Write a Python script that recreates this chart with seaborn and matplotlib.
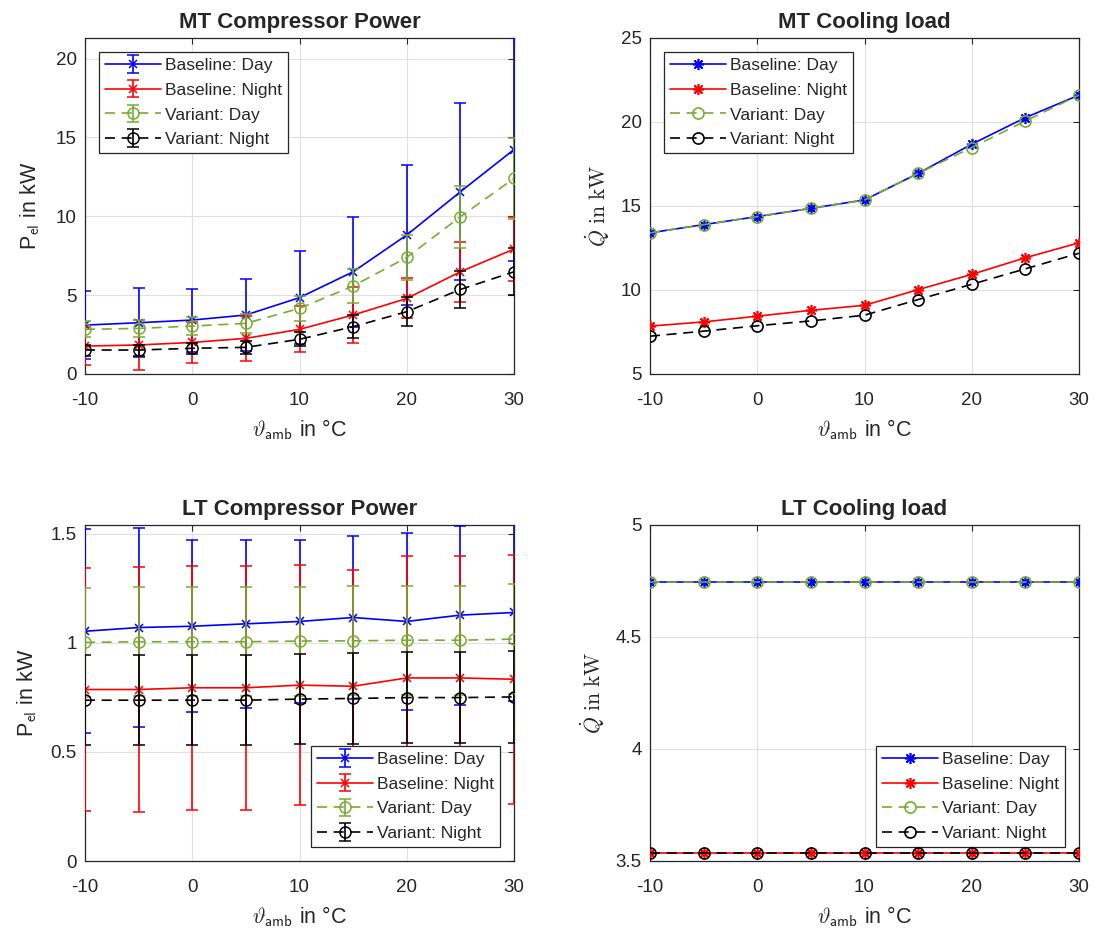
import numpy as np
import pandas as pd
import matplotlib
matplotlib.use("Agg")
import matplotlib.pyplot as plt
import seaborn as sns

# ---------------- data ----------------
t_amb = [-10, -5, 0, 5, 10, 15, 20, 25, 30]
x_ticks = [-10, 0, 10, 20, 30]
series_labels = ["Baseline: Day", "Baseline: Night", "Variant: Day", "Variant: Night"]

# MT compressor power (kW) and error half-widths
mt_pow_base_day = [3.10, 3.25, 3.42, 3.74, 4.84, 6.48, 8.81, 11.55, 14.23]
mt_pow_base_day_err = [2.18, 2.18, 2.00, 2.26, 2.95, 3.50, 4.43, 5.60, 7.04]
mt_pow_base_night = [1.77, 1.84, 2.00, 2.26, 2.83, 3.74, 4.79, 6.48, 7.92]
mt_pow_base_night_err = [1.20, 1.59, 1.32, 1.42, 1.46, 1.76, 1.27, 1.90, 2.05]
mt_pow_var_day = [2.83, 2.89, 3.04, 3.21, 4.16, 5.58, 7.39, 9.97, 12.40]
mt_pow_var_day_err = [0.50, 0.55, 0.55, 0.60, 0.80, 1.10, 1.40, 1.96, 2.57]
mt_pow_var_night = [1.52, 1.52, 1.63, 1.69, 2.20, 3.00, 3.95, 5.36, 6.48]
mt_pow_var_night_err = [0.35, 0.35, 0.35, 0.40, 0.45, 0.74, 0.91, 1.20, 1.48]

# MT cooling load (kW)
mt_q_base_day = [13.40, 13.89, 14.37, 14.86, 15.36, 16.94, 18.68, 20.26, 21.60]
mt_q_base_night = [7.85, 8.10, 8.44, 8.79, 9.09, 10.02, 10.93, 11.92, 12.81]
mt_q_var_day = [13.40, 13.89, 14.37, 14.86, 15.36, 16.94, 18.48, 20.06, 21.60]
mt_q_var_night = [7.25, 7.55, 7.87, 8.16, 8.50, 9.43, 10.34, 11.26, 12.19]

# LT compressor power (kW) and error half-widths
lt_pow_base_day = [1.053, 1.070, 1.076, 1.087, 1.098, 1.116, 1.098, 1.127, 1.139]
lt_pow_base_day_err = [0.468, 0.455, 0.395, 0.384, 0.373, 0.373, 0.407, 0.410, 0.405]
lt_pow_base_night = [0.786, 0.786, 0.794, 0.794, 0.806, 0.801, 0.839, 0.839, 0.833]
lt_pow_base_night_err = [0.555, 0.562, 0.560, 0.560, 0.550, 0.535, 0.559, 0.559, 0.570]
lt_pow_var_day = [1.002, 1.005, 1.005, 1.005, 1.008, 1.009, 1.012, 1.012, 1.017]
lt_pow_var_day_err = [0.250, 0.250, 0.250, 0.250, 0.250, 0.250, 0.250, 0.250, 0.252]
lt_pow_var_night = [0.737, 0.737, 0.737, 0.737, 0.742, 0.745, 0.749, 0.749, 0.752]
lt_pow_var_night_err = [0.205, 0.205, 0.205, 0.205, 0.205, 0.207, 0.210, 0.210, 0.210]

# LT cooling load (kW)
lt_q_base_day = [4.744] * 9
lt_q_base_night = [3.537] * 9
lt_q_var_day = [4.744] * 9
lt_q_var_night = [3.537] * 9

# ---------------- style ----------------
sns.set_style("white")
plt.rcParams["font.family"] = ["Liberation Sans", "DejaVu Sans"]
plt.rcParams["mathtext.fontset"] = "cm"
plt.rcParams["axes.unicode_minus"] = False
plt.rcParams["axes.edgecolor"] = "#262626"
plt.rcParams["xtick.color"] = "#262626"
plt.rcParams["ytick.color"] = "#262626"

colors = ["#0000ff", "#ff0000", "#77ac30", "#000000"]
styles = ["-", "-", "--", "--"]
grid_col = "#e0e0e0"
asterisk = (8, 2, 0)

fig = plt.figure(figsize=(10.95, 9.31), dpi=100)
W, H = 1095, 931


def make_ax(left, top, right, bottom):
    return fig.add_axes([left / W, 1 - bottom / H, (right - left) / W, (bottom - top) / H])


ax_tl = make_ax(85, 38, 514, 374)
ax_tr = make_ax(650, 38, 1079, 374)
ax_bl = make_ax(85, 525, 514, 861)
ax_br = make_ax(650, 525, 1079, 861)


def style_axes(ax, title, ylim, yticks, ylabel, ylabel_size=15, ylabelpad=6):
    ax.set_xlim(-10, 30)
    ax.set_ylim(*ylim)
    ax.set_xticks(x_ticks)
    ax.set_yticks(yticks)
    ax.set_yticklabels([("%g" % v) for v in yticks])
    ax.grid(True, color=grid_col, linewidth=0.8)
    ax.set_axisbelow(True)
    ax.tick_params(direction="in", length=4, width=0.8, top=True, right=True,
                   labelsize=13.5, colors="#262626")
    ax.tick_params(axis="x", pad=13)
    ax.tick_params(axis="y", pad=6)
    for sp in ax.spines.values():
        sp.set_linewidth(0.9)
        sp.set_color("#262626")
    ax.set_title(title, fontsize=16, fontweight="bold", pad=7)
    ax.set_xlabel(r"$\vartheta_{\mathsf{amb}}$ in °C", fontsize=15.5, color="#262626", labelpad=6)
    ax.set_ylabel(ylabel, fontsize=ylabel_size, color="#262626", labelpad=ylabelpad)


def power_panel(ax, vals, errs, marker):
    for i, (v, e) in enumerate(zip(vals, errs)):
        mk = marker if i < 2 else "o"
        ms = 6 if i < 2 else 8
        ax.errorbar(t_amb, v, yerr=e, color=colors[i], ls=styles[i], lw=1.2,
                    marker=mk, ms=ms, mfc="none", mew=1.1, capsize=4, elinewidth=1.2,
                    capthick=1.2, label=series_labels[i], zorder=3 + i,
                    dashes=(6, 4) if i >= 2 else (None, None))


def load_panel(ax, vals):
    df = pd.DataFrame({"t": t_amb * 4,
                       "val": sum([list(v) for v in vals], []),
                       "series": sum([[s] * len(t_amb) for s in series_labels], [])})
    for i, s in enumerate(series_labels):
        sub = df[df["series"] == s]
        mk = asterisk if i < 2 else "o"
        sns.lineplot(data=sub, x="t", y="val", ax=ax, color=colors[i], lw=1.2,
                     marker=mk, ms=8, mfc="none", mec=colors[i], mew=1.2,
                     label=s, zorder=3 + i, estimator=None, errorbar=None)
        ln = ax.get_lines()[-1]
        if i >= 2:
            ln.set_dashes((6, 4))


power_panel(ax_tl, [mt_pow_base_day, mt_pow_base_night, mt_pow_var_day, mt_pow_var_night],
            [mt_pow_base_day_err, mt_pow_base_night_err, mt_pow_var_day_err, mt_pow_var_night_err], "x")
style_axes(ax_tl, "MT Compressor Power", (0, 21.3), [0, 5, 10, 15, 20], r"P$_{\mathsf{el}}$ in kW",
           15.5, 10)

load_panel(ax_tr, [mt_q_base_day, mt_q_base_night, mt_q_var_day, mt_q_var_night])
style_axes(ax_tr, "MT Cooling load", (5, 25), [5, 10, 15, 20, 25], r"$\dot{Q}\ \mathrm{in\ kW}$", 15.5)

power_panel(ax_bl, [lt_pow_base_day, lt_pow_base_night, lt_pow_var_day, lt_pow_var_night],
            [lt_pow_base_day_err, lt_pow_base_night_err, lt_pow_var_day_err, lt_pow_var_night_err], "x")
style_axes(ax_bl, "LT Compressor Power", (0, 1.54), [0, 0.5, 1, 1.5], r"P$_{\mathsf{el}}$ in kW",
           15.5, 8)

load_panel(ax_br, [lt_q_base_day, lt_q_base_night, lt_q_var_day, lt_q_var_night])
style_axes(ax_br, "LT Cooling load", (3.5, 5), [3.5, 4, 4.5, 5], r"$\dot{Q}\ \mathrm{in\ kW}$", 15.5)

leg_kw = dict(fontsize=12.5, frameon=True, fancybox=False, framealpha=1, edgecolor="#262626",
              handlelength=3.2, borderpad=0.35, labelspacing=0.55, handletextpad=0.25,
              borderaxespad=0.8)
for ax, loc in [(ax_tl, "upper left"), (ax_tr, "upper left"), (ax_bl, "lower right"), (ax_br, "lower right")]:
    lg = ax.legend(loc=loc, **leg_kw)
    lg.get_frame().set_linewidth(0.9)

fig.savefig("out.png", dpi=100, facecolor="white")
